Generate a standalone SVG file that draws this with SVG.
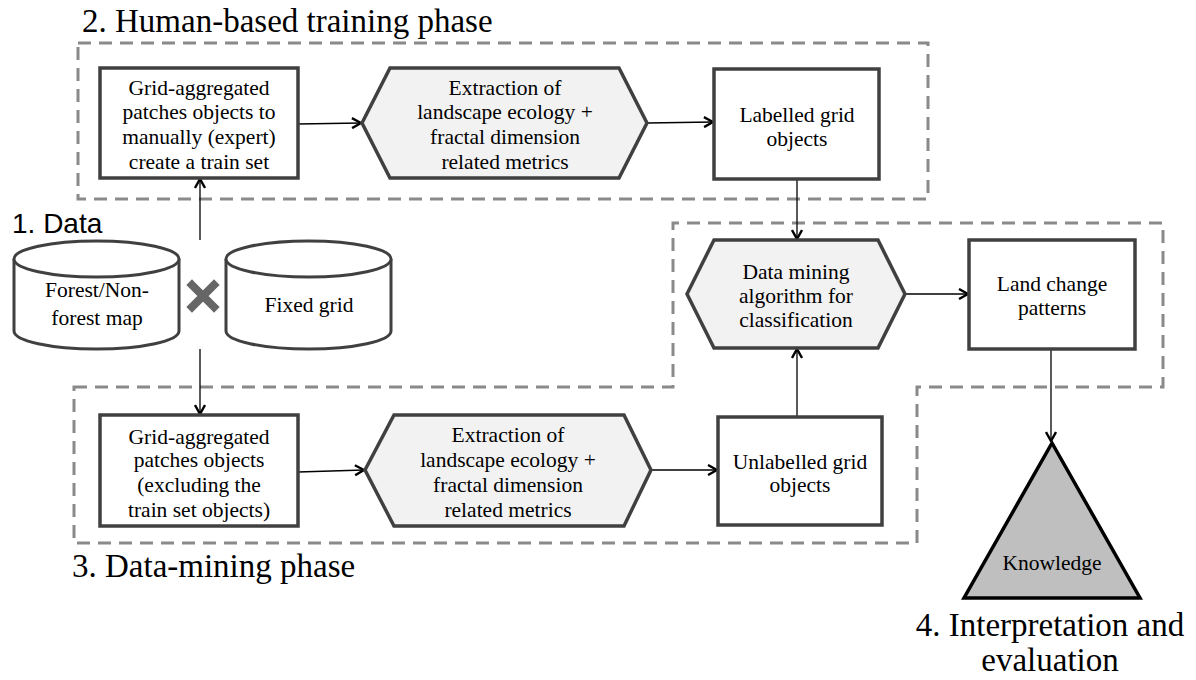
<svg xmlns="http://www.w3.org/2000/svg" width="1196" height="680" viewBox="0 0 1196 680">
  <defs>
    <marker id="arrow" viewBox="0 0 12 12" refX="11" refY="6" markerWidth="12" markerHeight="12" markerUnits="userSpaceOnUse" orient="auto">
      <path d="M2,1 L11,6 L2,11" fill="none" stroke="#000" stroke-width="2.4" stroke-linejoin="miter"/>
    </marker>
  </defs>
  <style>
    .phase { fill: none; stroke: #8a8a8a; stroke-width: 3; stroke-dasharray: 13 8; }
    .box { fill: #fff; stroke: #404040; stroke-width: 3.5; }
    .hex { fill: #f2f2f2; stroke: #404040; stroke-width: 3.5; }
    .cyl { fill: #fff; stroke: #404040; stroke-width: 3; }
    .tri { fill: #bfbfbf; stroke: #000; stroke-width: 3.5; stroke-linejoin: miter; }
    .lbl { font-family: "Liberation Serif", "DejaVu Serif", serif; font-size: 21.5px; fill: #000; text-anchor: middle; }
    .title { font-family: "Liberation Serif", "DejaVu Serif", serif; font-size: 33px; fill: #000; }
    .conn { fill: none; stroke: #000; stroke-width: 1.3; marker-end: url(#arrow); }
  </style>
  <rect width="1196" height="680" fill="#fff"/>

  <!-- phase outlines -->
  <g id="phases">
    <rect class="phase" x="78" y="43" width="850" height="156"/>
    <path class="phase" d="M74,387 H673 V223 H1163 V387 H917 V543 H74 Z"/>
  </g>

  <!-- phase titles -->
  <g id="titles">
    <text class="title" x="82" y="32">2. Human-based training phase</text>
    <text x="12" y="233" font-family="Liberation Sans, Arial, sans-serif" font-size="28px">1. Data</text>
    <text class="title" x="72" y="577">3. Data-mining phase</text>
    <text class="title" x="1050" y="636" text-anchor="middle">4. Interpretation and</text>
    <text class="title" x="1050" y="671" text-anchor="middle">evaluation</text>
  </g>

  <!-- connectors -->
  <g id="connectors">
    <line class="conn" x1="200" y1="240" x2="200" y2="179"/>
    <line class="conn" x1="200" y1="349" x2="200" y2="414"/>
    <line class="conn" x1="298" y1="124" x2="361" y2="123"/>
    <line class="conn" x1="647" y1="123" x2="713" y2="122"/>
    <line class="conn" x1="797" y1="180" x2="797" y2="239"/>
    <line class="conn" x1="298" y1="472" x2="364" y2="470"/>
    <line class="conn" x1="651" y1="470" x2="717" y2="470"/>
    <line class="conn" x1="797" y1="417" x2="797" y2="349"/>
    <line class="conn" x1="905" y1="294" x2="968" y2="294"/>
    <line class="conn" x1="1051" y1="349" x2="1051" y2="441"/>
  </g>

  <!-- data sources -->
  <g id="forest-map">
    <path class="cyl" d="M14,259 V331 A82.5,18 0 0 0 179,331 V259"/>
    <ellipse class="cyl" cx="96.5" cy="259" rx="82.5" ry="18"/>
    <text class="lbl" x="97" y="297">Forest/Non-</text>
    <text class="lbl" x="97" y="325">forest map</text>
  </g>
  <g id="cross">
    <path d="M192,285 L214,307 M214,285 L192,307" stroke="#666" stroke-width="8" stroke-linecap="square"/>
  </g>
  <g id="fixed-grid">
    <path class="cyl" d="M226,259 V331 A82.5,18 0 0 0 391,331 V259"/>
    <ellipse class="cyl" cx="308.5" cy="259" rx="82.5" ry="18"/>
    <text class="lbl" x="309" y="312">Fixed grid</text>
  </g>

  <!-- training phase -->
  <g id="train-objects">
    <rect class="box" x="100" y="68" width="198" height="110"/>
    <text class="lbl" x="199" y="95">Grid-aggregated</text>
    <text class="lbl" x="199" y="119">patches objects to</text>
    <text class="lbl" x="199" y="144">manually (expert)</text>
    <text class="lbl" x="199" y="169">create a train set</text>
  </g>
  <g id="train-extraction">
    <polygon class="hex" points="362,123 390,68 619,68 647,123 619,178 390,178"/>
    <text class="lbl" x="505" y="95">Extraction of</text>
    <text class="lbl" x="505" y="119">landscape ecology +</text>
    <text class="lbl" x="505" y="144">fractal dimension</text>
    <text class="lbl" x="505" y="169">related metrics</text>
  </g>
  <g id="labelled">
    <rect class="box" x="714" y="69" width="165" height="110"/>
    <text class="lbl" x="797" y="122">Labelled grid</text>
    <text class="lbl" x="797" y="146">objects</text>
  </g>

  <!-- classification -->
  <g id="classifier">
    <polygon class="hex" points="687,294 714,240 878,240 905,294 878,348 714,348"/>
    <text class="lbl" x="796" y="279">Data mining</text>
    <text class="lbl" x="796" y="303">algorithm for</text>
    <text class="lbl" x="796" y="327">classification</text>
  </g>
  <g id="land-change">
    <rect class="box" x="969" y="240" width="166" height="109"/>
    <text class="lbl" x="1052" y="291">Land change</text>
    <text class="lbl" x="1052" y="315">patterns</text>
  </g>

  <!-- data-mining phase -->
  <g id="mining-objects">
    <rect class="box" x="100" y="415" width="198" height="111"/>
    <text class="lbl" x="199" y="444">Grid-aggregated</text>
    <text class="lbl" x="199" y="467">patches objects</text>
    <text class="lbl" x="199" y="492">(excluding the</text>
    <text class="lbl" x="199" y="517">train set objects)</text>
  </g>
  <g id="mining-extraction">
    <polygon class="hex" points="365,470 394,415 624,415 651,470 624,526 394,526"/>
    <text class="lbl" x="508" y="442">Extraction of</text>
    <text class="lbl" x="508" y="467">landscape ecology +</text>
    <text class="lbl" x="508" y="492">fractal dimension</text>
    <text class="lbl" x="508" y="517">related metrics</text>
  </g>
  <g id="unlabelled">
    <rect class="box" x="718" y="417" width="164" height="108"/>
    <text class="lbl" x="800" y="469" font-size="20px">Unlabelled grid</text>
    <text class="lbl" x="800" y="492" font-size="20px">objects</text>
  </g>

  <!-- knowledge -->
  <g id="knowledge">
    <polygon class="tri" points="1052,443 1140,598 964,598"/>
    <text class="lbl" x="1052" y="570" font-size="20px">Knowledge</text>
  </g>
</svg>
